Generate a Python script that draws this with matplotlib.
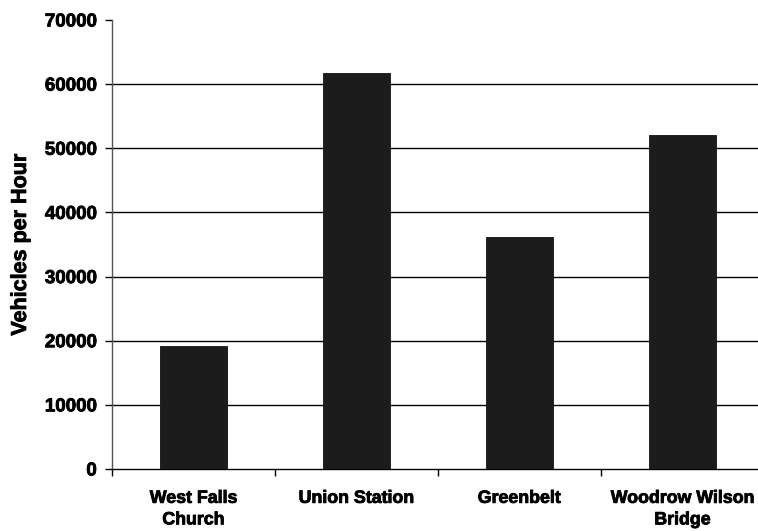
import matplotlib
matplotlib.use("Agg")
import matplotlib.pyplot as plt
import matplotlib.patheffects as pe
from matplotlib.ticker import FixedLocator

categories = ["West Falls\nChurch", "Union Station", "Greenbelt", "Woodrow Wilson\nBridge"]
values = [19200, 61700, 36200, 52100]
yticks = [0, 10000, 20000, 30000, 40000, 50000, 60000, 70000]

plt.rcParams['font.family'] = ['Liberation Sans', 'DejaVu Sans']
plt.rcParams['font.weight'] = 'bold'

fig = plt.figure(figsize=(7.58, 5.31), dpi=100)
ax = fig.add_axes([112/758, 1 - 469/531, 652/758, (469-20)/531])

x = list(range(len(categories)))
ax.bar(x, values, width=0.41, color='#1c1c1c', edgecolor='#111111', linewidth=0.6, zorder=3)

thick = [pe.withStroke(linewidth=0.6, foreground='black')]

ax.set_xlim(-0.5, 3.5)
ax.set_ylim(0, 70000)
ax.set_yticks(yticks)
ax.set_yticklabels([str(v) for v in yticks], fontsize=13.5, fontweight='bold')
for v in yticks[1:-1]:
    ax.axhline(v, color='black', linewidth=1.0, zorder=1)

ax.set_xticks(x)
ax.set_xticklabels(categories, fontsize=12.8, fontweight='bold', linespacing=1.35)
ax.xaxis.set_minor_locator(FixedLocator([-0.5, 0.5, 1.5, 2.5, 3.5]))
ax.tick_params(axis='x', which='major', length=0, pad=15)
ax.tick_params(axis='x', which='minor', length=5, width=1, color='black')
ax.tick_params(axis='y', length=5, width=1, color='black', pad=6)

ax.set_ylabel("Vehicles per Hour", fontsize=15.5, fontweight='bold', labelpad=10)

for lbl in ax.get_xticklabels() + ax.get_yticklabels() + [ax.yaxis.label]:
    lbl.set_path_effects(thick)

for s in ['top', 'right']:
    ax.spines[s].set_visible(False)
ax.spines['left'].set_color('#555555')
ax.spines['bottom'].set_color('black')
ax.spines['left'].set_linewidth(1.0)
ax.spines['bottom'].set_linewidth(1.0)

fig.savefig("out.png", dpi=100)
